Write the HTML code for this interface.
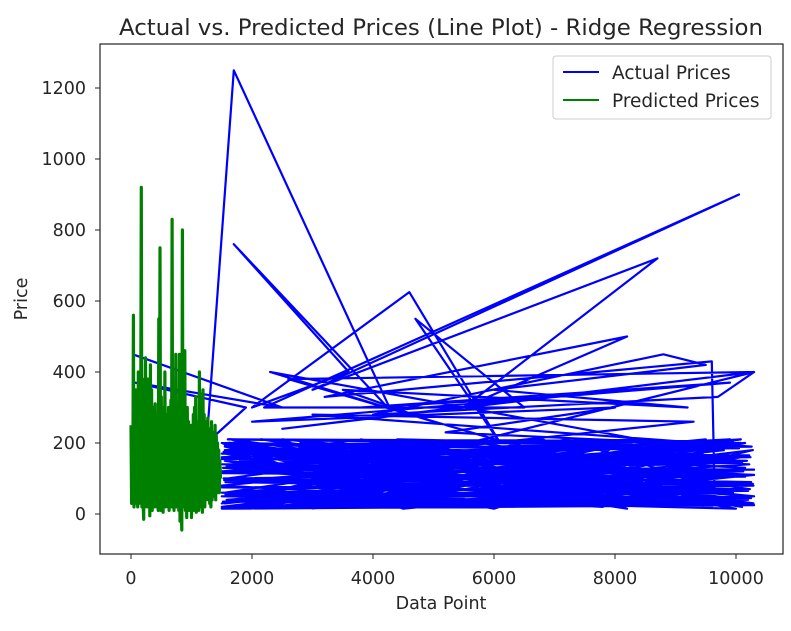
<!DOCTYPE html>
<html><head><meta charset="utf-8"><style>
body{margin:0;background:#fff;}
svg text{font-family:"DejaVu Sans","Liberation Sans",sans-serif;fill:#262626;}
</style></head><body>
<svg id="chart" width="791" height="626" viewBox="0 0 791 626">
<text x="441" y="35" font-size="22.5" text-anchor="middle" textLength="644" lengthAdjust="spacingAndGlyphs">Actual vs. Predicted Prices (Line Plot) - Ridge Regression</text>
<g id="plot" clip-path="url(#clip)"></g>
<defs><clipPath id="clip"><rect x="100" y="44" width="683" height="510"/></clipPath></defs>
<rect x="100" y="44" width="683" height="510" fill="none" stroke="#222" stroke-width="1.2"/>
<g id="axes"></g>
<text x="441" y="609" font-size="17.5" text-anchor="middle">Data Point</text>
<text transform="translate(27,299) rotate(-90)" font-size="17.5" text-anchor="middle">Price</text>
<g>
<rect x="553" y="56" width="218" height="63" rx="3" fill="#fff" fill-opacity="0.85" stroke="#ccc"/>
<line x1="563" y1="72" x2="599" y2="72" stroke="#0000ff" stroke-width="2"/>
<text x="612" y="79" font-size="18.5">Actual Prices</text>
<line x1="563" y1="100" x2="599" y2="100" stroke="#008000" stroke-width="2"/>
<text x="612" y="107" font-size="18.5">Predicted Prices</text>
</g>
</svg>
<script>
const xTicks=[0,2000,4000,6000,8000,10000];
const yTicks=[0,200,400,600,800,1000,1200];
const actualX=[30,2500,60,1900,1250,1700,4300,1700,3600,2000,4600,6100,4700,6500,2200,10050,3000,8700,5500,8200,3200,9600,9650,2600,10300,
1550,9800,1600,10200,2100,9000,1500,10250,3000,8500,1700,9900,4200,7000,1550,10100,5200,2500,9700,1600,8800,3500,10300,1800,6000,9500,1500,7800,2800,10150,4800,1650,9300,2200,10050,5500,1550,8200,3800,10250,1700,6800,9600,2000,10300,4500,1500,7500,3100,9900,2400,10200,5800,1600,8600,4000,10000,1800,7200,9400,2700,10280,6300,1550,9000,3300,10100,5000,1500,8900,
2300,5000,3500,9200,6000,9500,8800,4000,9700,10300,2500,7000,3800,9900,2000,8000,5200,10250,3000,9300,
1520,9950,1580,10180,2600,8300,1500,9750,3900,7400,1680,10060,4400,6600,1560,9850,2900,10220,1620,7900,5600,9550,1530,10290,2150,8700,3400,10000,1700,9200,6200,1540,9650,2450,10150,4700,1500,8100,3700,10260,1600,7600,5300,9450,1650,10080,2850,9100,1500,10300,
1500,10300,1520,10250,1560,10200,1500,10280,1540,10150,1510,10300,1580,10100,1500,10220,1530,10050,1550,9950,1600,10260,1500,10180,1520,10300,1560,10230,1500,10270,1540,10200,1500,10290,1570,10120,1510,10240,1550,10080,1500];
const actualY=[450,300,370,300,200,1250,290,760,400,300,625,200,550,300,300,900,350,720,300,500,330,430,30,380,400,
30,180,200,40,20,200,120,90,15,210,180,25,30,200,60,160,20,210,100,15,190,25,50,150,15,210,80,20,200,130,20,210,30,100,200,25,190,15,210,30,40,210,20,170,110,15,200,30,150,210,20,70,200,100,25,190,15,50,210,90,25,180,20,150,35,205,20,160,30,195,
400,260,350,300,350,420,450,280,330,400,240,330,300,370,260,300,230,190,280,260,
120,60,40,150,180,30,160,200,20,170,90,190,210,40,20,120,60,140,200,180,25,60,100,30,210,45,190,80,120,140,20,170,30,100,200,60,20,150,30,110,190,80,25,170,120,210,40,160,200,50,
15,25,35,45,55,65,75,85,95,105,115,125,135,145,155,165,175,185,195,205,210,190,170,150,130,110,90,70,50,30,20,40,60,80,100,120,140,160,180,200,20];
const predY=[250,30,220,40,560,20,300,50,350,30,
280,20,400,30,300,40,250,920,20,380,
30,-15,300,20,440,40,330,20,380,30,
300,-5,420,20,350,10,300,40,260,20,
310,30,280,20,250,10,550,20,750,10,
330,20,270,5,300,30,400,20,280,30,
260,20,300,10,280,30,320,20,830,20,
280,10,320,30,450,20,260,30,300,10,
450,-20,290,20,-45,800,30,450,20,460,
10,280,-10,300,20,260,10,220,30,250,
-10,240,20,280,10,300,20,330,5,250,
30,260,10,400,20,330,20,300,5,350,
30,280,20,260,40,250,60,270,40,220,
30,240,20,260,40,230,50,220,60,250,
40,220,60,200,80,180,60,150,100];
const predX=predY.map((v,i)=>i*10);
const x=v=>131+v*(736-131)/10000;
const y=v=>514-v*(514-88)/1200;
const NS='http://www.w3.org/2000/svg';
const plot=document.getElementById('plot'),axes=document.getElementById('axes');
function line(xs,ys,color,w,name){
  const p=document.createElementNS(NS,'polyline');
  p.setAttribute('points',xs.map((v,i)=>x(v).toFixed(1)+','+y(ys[i]).toFixed(1)).join(' '));
  p.setAttribute('fill','none');p.setAttribute('stroke',color);p.setAttribute('stroke-width',w);p.setAttribute('stroke-linejoin','round');
  
  
  plot.appendChild(p);
}
line(actualX,actualY,'#0000ff','2.2','actual-prices-line');
line(predX,predY,'#008000','3.2','predicted-prices-line');
xTicks.forEach(t=>{
  const l=document.createElementNS(NS,'line');
  l.setAttribute('x1',x(t));l.setAttribute('x2',x(t));l.setAttribute('y1',554);l.setAttribute('y2',559);l.setAttribute('stroke','#222');
  
  
  axes.appendChild(l);
  const tx=document.createElementNS(NS,'text');
  tx.setAttribute('x',x(t));tx.setAttribute('y',584);tx.setAttribute('font-size','17.5');tx.setAttribute('text-anchor','middle');tx.textContent=t;
  
  
  axes.appendChild(tx);
});
yTicks.forEach(t=>{
  const l=document.createElementNS(NS,'line');
  l.setAttribute('x1',95);l.setAttribute('x2',100);l.setAttribute('y1',y(t));l.setAttribute('y2',y(t));l.setAttribute('stroke','#222');
  
  
  axes.appendChild(l);
  const tx=document.createElementNS(NS,'text');
  tx.setAttribute('x',86);tx.setAttribute('y',y(t)+6);tx.setAttribute('font-size','17.5');tx.setAttribute('text-anchor','end');tx.textContent=t;
  
  
  axes.appendChild(tx);
});
</script>
</body></html>
